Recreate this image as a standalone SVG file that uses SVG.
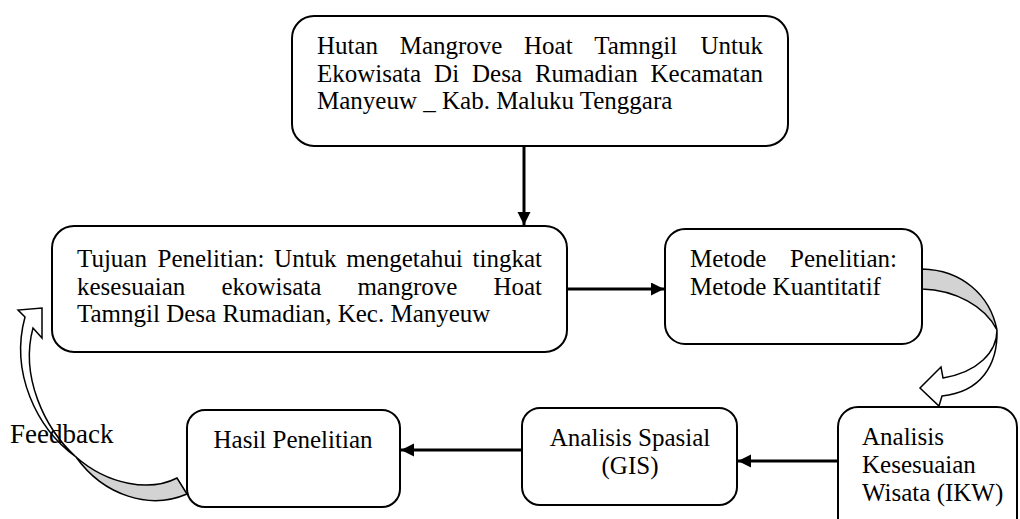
<svg xmlns="http://www.w3.org/2000/svg" width="1020" height="519" viewBox="0 0 1020 519">
<style>
.box{fill:#fff;stroke:#000;stroke-width:2}
.t{font-family:"Liberation Serif","Times New Roman",serif;font-size:25px;fill:#000}
.c{text-anchor:middle}
.con{stroke:#000;stroke-width:3;fill:none}
.blk{stroke:#000;stroke-width:1.5;stroke-linejoin:miter}
.grey{fill:#d3d3d3}
.white{fill:#fff}
</style>
<defs>
<marker id="ah" markerUnits="userSpaceOnUse" markerWidth="14" markerHeight="14" refX="13" refY="6.5" orient="auto">
<path d="M0,0 L13,6.5 L0,13 z" fill="#000"/>
</marker>
</defs>
<rect width="1020" height="519" fill="#fff"/>

<g id="connectors">
<path class="con" d="M524,146 V225" marker-end="url(#ah)"/>
<path class="con" d="M567,289 H664" marker-end="url(#ah)"/>
<path class="con" d="M838,461 H738" marker-end="url(#ah)"/>
<path class="con" d="M522,450 H401" marker-end="url(#ah)"/>
<g id="curved-arrow-right">
<path class="blk grey" d="M922,269 C962,270 990,295 997,330 C985,306 955,290 922,289 Z"/>
<path class="blk white" d="M997,330 C997,352 978,372 943,378 L941,367 L920,388 L939,406 L942,396 C980,392 998,366 997,330 Z"/>
</g>
<g id="curved-arrow-feedback">
<path class="blk white" d="M25,317 L18,310 L42,308 L42,338 L33,328 C20,376 44,428 76,457 C36,428 10,372 25,317 Z"/>
<path class="blk grey" d="M76,457 C108,485 150,492 177,478 L187,494 C150,510 104,496 76,457 Z"/>
</g>
</g>

<g id="node-hutan">
<rect class="box" x="292" y="16" width="496" height="130" rx="22"/>
<text class="t" y="54"><tspan x="317">Hutan</tspan><tspan x="399.7">Mangrove</tspan><tspan x="524">Hoat</tspan><tspan x="594.2">Tamngil</tspan><tspan x="763" text-anchor="end">Untuk</tspan></text>
<text class="t" y="81.5"><tspan x="317">Ekowisata</tspan><tspan x="434.1">Di</tspan><tspan x="472">Desa</tspan><tspan x="534.9">Rumadian</tspan><tspan x="763" text-anchor="end">Kecamatan</tspan></text>
<text class="t" x="317" y="109">Manyeuw _ Kab. Maluku Tenggara</text>
</g>

<g id="node-tujuan">
<rect class="box" x="52" y="226" width="515" height="126" rx="22"/>
<text class="t" y="267"><tspan x="77">Tujuan</tspan><tspan x="157.5">Penelitian:</tspan><tspan x="274.1">Untuk</tspan><tspan x="346.2">mengetahui</tspan><tspan x="542" text-anchor="end">tingkat</tspan></text>
<text class="t" y="294.5"><tspan x="77">kesesuaian</tspan><tspan x="221.4">ekowisata</tspan><tspan x="357.4">mangrove</tspan><tspan x="542" text-anchor="end">Hoat</tspan></text>
<text class="t" x="77" y="322">Tamngil Desa Rumadian, Kec. Manyeuw</text>
</g>

<g id="node-metode">
<rect class="box" x="665" y="229" width="257" height="115" rx="20"/>
<text class="t" y="267"><tspan x="690">Metode</tspan><tspan x="897" text-anchor="end">Penelitian:</tspan></text>
<text class="t" x="690" y="295">Metode Kuantitatif</text>
</g>

<g id="node-ikw">
<rect class="box" x="838" y="407" width="179" height="140" rx="20"/>
<text class="t" x="862" y="445">Analisis</text>
<text class="t" x="862" y="473">Kesesuaian</text>
<text class="t" x="862" y="501">Wisata (IKW)</text>
</g>

<g id="node-spasial">
<rect class="box" x="522" y="408" width="215" height="97" rx="18"/>
<text class="t c" x="630" y="446">Analisis Spasial</text>
<text class="t c" x="630" y="474">(GIS)</text>
</g>

<g id="node-hasil">
<rect class="box" x="187" y="410" width="213" height="97" rx="18"/>
<text class="t c" x="293" y="448">Hasil Penelitian</text>
</g>

<text id="label-feedback" class="t" x="10" y="443" style="font-size:27px">Feedback</text>
</svg>
